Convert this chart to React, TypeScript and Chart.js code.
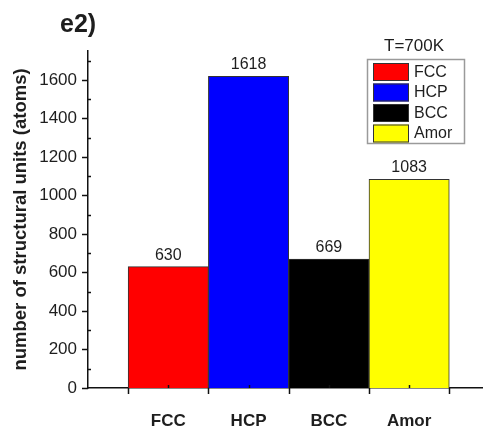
import React, { useEffect, useRef } from "react";
import { Chart, registerables } from "chart.js";

Chart.register(...registerables);

const categories = ["FCC", "HCP", "BCC", "Amor"];
const counts = [630, 1618, 669, 1083];
const barColors = ["#ff0000", "#0000ff", "#000000", "#ffff00"];
const yTickValues = [0, 200, 400, 600, 800, 1000, 1200, 1400, 1600];
const yMinorValues = [100, 300, 500, 700, 900, 1100, 1300, 1500, 1700];
const xMajorValues = [0.5, 1.5, 2.5, 3.5, 4.5];
const xMinorValues = [1, 2, 3, 4];
const panelLabel = "e2)";
const legendTitle = "T=700K";
const yTitle = "number of structural units (atoms)";

const FONT = "'Liberation Sans', Arial, sans-serif";
const TEXT = "#1e1e1e";

const decorPlugin = {
  id: "decor",
  afterDraw(chart: any) {
    const ctx = chart.ctx;
    const xs = chart.scales.x;
    const ys = chart.scales.y;
    const area = chart.chartArea;
    ctx.save();
    ctx.strokeStyle = "#111";
    ctx.lineWidth = 1.5;
    // y ticks
    yTickValues.forEach((v) => {
      const y = Math.round(ys.getPixelForValue(v)) + 0.5;
      ctx.beginPath();
      ctx.moveTo(area.left - 6, y);
      ctx.lineTo(area.left, y);
      ctx.stroke();
    });
    yMinorValues.forEach((v) => {
      const y = Math.round(ys.getPixelForValue(v)) + 0.5;
      ctx.beginPath();
      ctx.moveTo(area.left, y);
      ctx.lineTo(area.left + 3, y);
      ctx.stroke();
    });
    // x ticks
    xMajorValues.forEach((v) => {
      const x = Math.round(xs.getPixelForValue(v)) + 0.5;
      ctx.beginPath();
      ctx.moveTo(x, area.bottom);
      ctx.lineTo(x, area.bottom + 6);
      ctx.stroke();
    });
    xMinorValues.forEach((v) => {
      const x = Math.round(xs.getPixelForValue(v)) + 0.5;
      ctx.beginPath();
      ctx.moveTo(x, area.bottom);
      ctx.lineTo(x, area.bottom - 3);
      ctx.stroke();
    });

    // data value labels
    const meta = chart.getDatasetMeta(0);
    ctx.fillStyle = TEXT;
    ctx.font = `16px ${FONT}`;
    ctx.textAlign = "center";
    ctx.textBaseline = "alphabetic";
    meta.data.forEach((bar: any, i: number) => {
      ctx.fillText(String(counts[i]), bar.x, bar.y - 7);
    });

    // panel label
    ctx.font = `bold 25px ${FONT}`;
    ctx.textAlign = "left";
    ctx.textBaseline = "middle";
    ctx.fillText(panelLabel, 60, 25);

    // legend
    const lx = 367;
    const ly = 59;
    ctx.font = `17px ${FONT}`;
    ctx.textAlign = "center";
    ctx.textBaseline = "middle";
    ctx.fillText(legendTitle, 414, 46);
    ctx.strokeStyle = "#9a9a9a";
    ctx.lineWidth = 1.5;
    ctx.strokeRect(lx + 0.5, ly + 0.5, 97, 84);
    ctx.font = `16px ${FONT}`;
    ctx.textAlign = "left";
    categories.forEach((c, i) => {
      const sy = ly + 4 + i * 20.5;
      ctx.fillStyle = barColors[i];
      ctx.fillRect(lx + 6, sy, 36, 18);
      ctx.strokeStyle = "#333";
      ctx.lineWidth = 1;
      ctx.strokeRect(lx + 6.5, sy + 0.5, 35, 17);
      ctx.fillStyle = TEXT;
      ctx.fillText(c, lx + 47, sy + 9.5);
    });
    ctx.restore();
  },
};

export default function App() {
  const ref = useRef<HTMLCanvasElement | null>(null);
  useEffect(() => {
    if (!ref.current) return;
    const chart = new Chart(ref.current, {
      type: "bar",
      data: {
        datasets: [
          {
            data: counts.map((v, i) => ({ x: i + 1, y: v })),
            backgroundColor: barColors,
            borderColor: "#333",
            borderWidth: 1,
            barPercentage: 1,
            categoryPercentage: 1,
          },
        ],
      },
      options: {
        responsive: false,
        animation: false,
        layout: { padding: { top: 51, right: 0, left: 0, bottom: 0 } },
        plugins: {
          legend: { display: false },
          tooltip: { enabled: false },
          title: { display: false },
        },
        scales: {
          x: {
            type: "linear",
            offset: false,
            min: 0,
            max: 4.92,
            afterFit: (s: any) => {
              s.height = 40;
            },
            afterBuildTicks: (s: any) => {
              s.ticks = xMinorValues.map((v) => ({ value: v }));
            },
            grid: { display: false, drawTicks: false, offset: false },
            border: { display: true, color: "#111", width: 1.5 },
            ticks: {
              autoSkip: false,
              maxRotation: 0,
              padding: 23,
              color: TEXT,
              font: { family: FONT, size: 17, weight: "bold" },
              callback: (v: any) => categories[Math.round(v) - 1] ?? "",
            },
          },
          y: {
            type: "linear",
            min: 0,
            max: 1750,
            afterFit: (s: any) => {
              s.width = 88;
            },
            afterBuildTicks: (s: any) => {
              s.ticks = yTickValues.map((v) => ({ value: v }));
            },
            grid: { display: false, drawTicks: false },
            border: { display: true, color: "#111", width: 1.5 },
            ticks: {
              padding: 11,
              color: TEXT,
              font: { family: FONT, size: 17 },
              callback: (v: any) => String(v),
            },
            title: {
              display: true,
              text: yTitle,
              color: TEXT,
              font: { family: FONT, size: 18.5, weight: "bold" },
              padding: { top: 10, bottom: 10 },
            },
          },
        },
      },
      plugins: [decorPlugin],
    });
    return () => chart.destroy();
  }, []);
  return (
    <div style={{ position: "fixed", left: 0, top: 0, width: 483, height: 428, background: "#fff" }}>
      <canvas ref={ref} width={483} height={428} style={{ display: "block" }} />
    </div>
  );
}
